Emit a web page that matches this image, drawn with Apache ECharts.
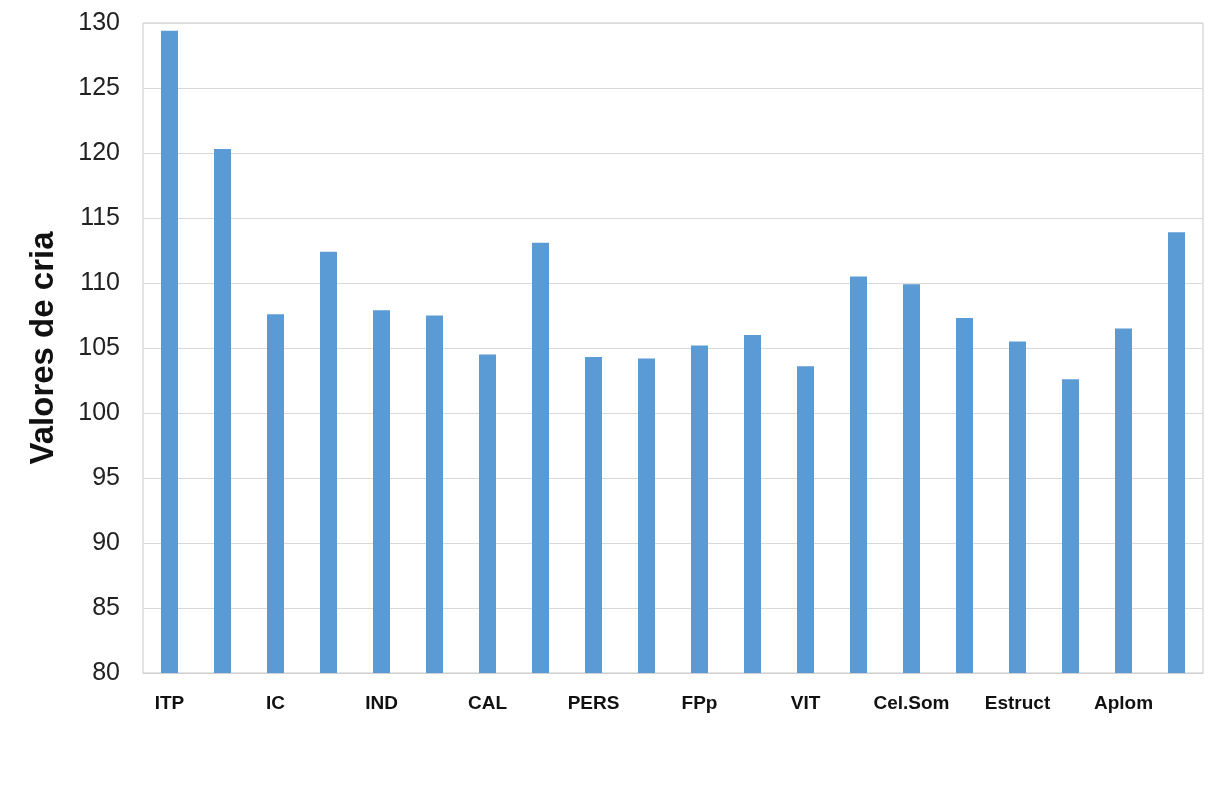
<!DOCTYPE html>
<html>
<head>
<meta charset="utf-8">
<script src="https://cdn.jsdelivr.net/npm/echarts@6/dist/echarts.min.js"></script>
<style>
  html, body { margin: 0; padding: 0; background: #fff; }
  #chart { width: 1222px; height: 789px; }
</style>
</head>
<body>
<div id="chart"></div>
<script>
// categorias (solo una de cada dos lleva rótulo)
var categorias = ['ITP', '', 'IC', '', 'IND', '', 'CAL', '', 'PERS', '',
  'FPp', '', 'VIT', '', 'Cel.Som', '', 'Estruct', '', 'Aplom', ''];
// valores de cría
var valores = [129.4, 120.3, 107.6, 112.4, 107.9, 107.5, 104.5, 113.1, 104.3, 104.2,
  105.2, 106.0, 103.6, 110.5, 109.9, 107.3, 105.5, 102.6, 106.5, 113.9];
var yMin = 80, yMax = 130, yPaso = 5;

function getBarChart() {
  var barChart = echarts.init(document.getElementById('chart'));
  var option = {
    animation: false,
    grid: {
      left: 143,
      right: 19,
      top: 23,
      bottom: 116,
      show: true,
      borderColor: '#c8c8c8',
      borderWidth: 1
    },
    xAxis: {
      type: 'category',
      data: categorias,
      axisTick: { show: false },
      axisLine: { lineStyle: { color: '#d0d0d0' } },
      axisLabel: {
        interval: 0,
        margin: 21,
        fontFamily: 'Liberation Sans, Arial, sans-serif',
        fontWeight: 'bold',
        fontSize: 19,
        color: '#111'
      }
    },
    yAxis: {
      type: 'value',
      min: yMin,
      max: yMax,
      interval: yPaso,
      name: 'Valores de cria',
      nameLocation: 'middle',
      nameGap: 83,
      nameTextStyle: {
        fontFamily: 'Liberation Sans, Arial, sans-serif',
        fontWeight: 'bold',
        fontSize: 33,
        color: '#111'
      },
      axisLine: { show: false },
      axisTick: { show: false },
      splitLine: { lineStyle: { color: '#d9d9d9' } },
      axisLabel: {
        margin: 23,
        fontFamily: 'Liberation Sans, Arial, sans-serif',
        fontSize: 25,
        color: '#222'
      }
    },
    series: [{
      type: 'bar',
      data: valores,
      barWidth: 17,
      itemStyle: { color: '#5b9bd5' }
    }]
  };
  barChart.setOption(option);
}

getBarChart();
</script>
</body>
</html>
